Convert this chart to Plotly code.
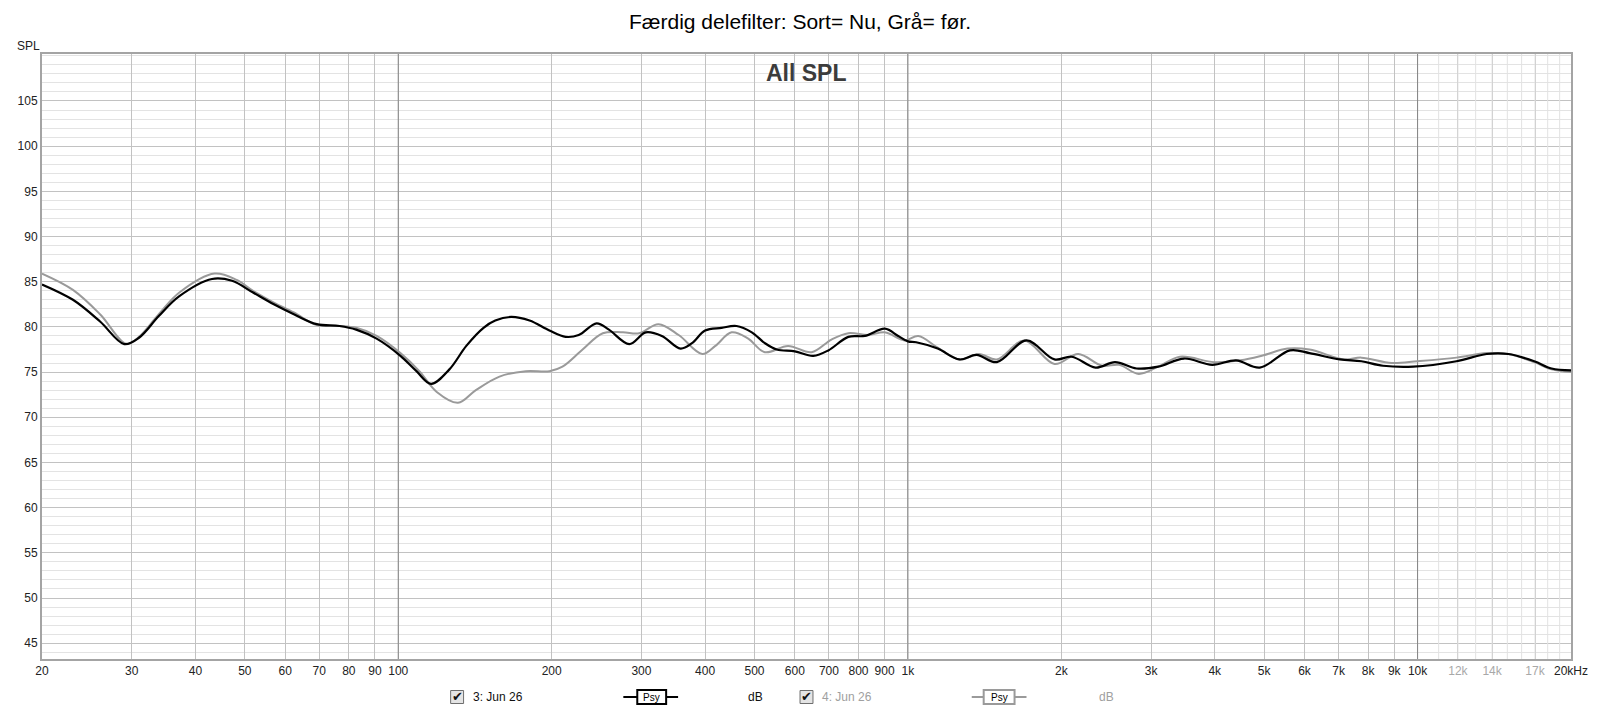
import math
import plotly.graph_objects as go

# ---- data (Hz, dB) ----
freq_now = [20, 23, 26, 29, 31, 33.9, 37.2, 43.1, 47.2, 51.9, 57, 62.4, 69.2, 76.7, 82.7, 90.7,
            101, 108.6, 116, 126, 136, 147, 155, 166.6, 181, 198, 213, 226, 245, 259, 284, 306,
            329, 358, 377, 400, 431, 461, 494, 524, 553, 600, 652, 698, 764, 823, 901, 957,
            1000, 1038, 1144, 1262, 1364, 1495, 1708, 1939, 2097, 2334, 2549, 2810, 3099, 3483,
            3955, 4404, 4902, 5621, 6137, 7037, 7757, 8554, 9806, 11920, 13670, 15070, 16940,
            18320, 20000]
spl_now = [84.7, 83.0, 80.6, 78.1, 78.8, 81.2, 83.4, 85.3, 85.1, 83.8, 82.5, 81.4, 80.3, 80.1, 79.7, 78.7,
           76.8, 75.1, 73.7, 75.3, 77.9, 79.9, 80.7, 81.1, 80.7, 79.6, 78.9, 79.1, 80.4, 79.7, 78.1, 79.4,
           79.0, 77.6, 78.2, 79.6, 79.9, 80.1, 79.4, 78.2, 77.5, 77.3, 76.8, 77.4, 78.9, 79.0, 79.8, 79.0,
           78.4, 78.3, 77.6, 76.4, 76.9, 76.1, 78.5, 76.4, 76.7, 75.5, 76.1, 75.4, 75.6, 76.5,
           75.8, 76.3, 75.5, 77.4, 77.1, 76.4, 76.2, 75.7, 75.6, 76.2, 77.0, 77.0, 76.2,
           75.4, 75.2]

freq_before = [20, 23, 26, 29.3, 31, 33.9, 37.2, 43.6, 48.2, 51.9, 57, 62.4, 69.2, 76.7, 82.7, 90.7,
               101, 110, 119, 131, 142, 158, 178, 198, 210, 230, 252, 276, 297, 324, 355, 395,
               419, 451, 486, 524, 582, 647, 708, 764, 836, 901, 985, 1048, 1144, 1262, 1378, 1495,
               1691, 1939, 2159, 2403, 2597, 2837, 3099, 3418, 3993, 4494, 4947, 5561, 6137, 7176,
               7757, 8893, 10000, 11920, 13670, 15070, 16940, 18320, 20000]
spl_before = [85.9, 84.1, 81.4, 78.1, 78.9, 81.4, 83.8, 85.9, 85.2, 84.0, 82.7, 81.6, 80.2, 80.1, 79.9, 79.0,
              77.1, 75.1, 72.8, 71.6, 73.0, 74.5, 75.1, 75.1, 75.6, 77.5, 79.3, 79.4, 79.3, 80.3, 79.1, 77.0,
              77.9, 79.4, 78.7, 77.2, 77.9, 77.2, 78.6, 79.3, 79.1, 79.4, 78.5, 79.0, 77.7, 76.4, 77.0, 76.4,
              78.5, 75.9, 77.0, 75.7, 75.8, 74.8, 75.6, 76.7, 76.1, 76.3, 76.8, 77.6, 77.5, 76.4,
              76.6, 76.0, 76.2, 76.6, 77.1, 77.0, 76.1, 75.3, 75.0]

tick_freqs = [20, 30, 40, 50, 60, 70, 80, 90, 100, 200, 300, 400, 500, 600, 700, 800, 900,
              1000, 2000, 3000, 4000, 5000, 6000, 7000, 8000, 9000, 10000, 12000, 14000, 17000, 20000]
tick_labels = ["20", "30", "40", "50", "60", "70", "80", "90", "100", "200", "300", "400", "500",
               "600", "700", "800", "900", "1k", "2k", "3k", "4k", "5k", "6k", "7k", "8k", "9k", "10k",
               "<span style='color:#a8a8a8'>12k</span>", "<span style='color:#a8a8a8'>14k</span>",
               "<span style='color:#a8a8a8'>17k</span>", "20kHz"]
spl_ticks = [45, 50, 55, 60, 65, 70, 75, 80, 85, 90, 95, 100, 105]

W, H = 1600, 711
L, R, T, B = 42, 22, 54, 52
YMIN, YMAX = 43.25, 110.2
FONT = "Liberation Sans, Arial, sans-serif"


def px(x):
    return (x - L) / (W - L - R)


def py(y):
    return (H - B - y) / (H - T - B)


def label(text, x, y, size=12, color="#111111", xanchor="center", family=FONT):
    return dict(text=text, xref="paper", yref="paper", x=x, y=y, xanchor=xanchor, yanchor="middle",
                showarrow=False, font=dict(family=family, size=size, color=color))


fig = go.Figure()
fig.add_trace(go.Scatter(x=freq_before, y=spl_before, mode="lines", name="4: Jun 26",
                         line=dict(color="#9a9a9a", width=2, shape="spline", smoothing=1)))
fig.add_trace(go.Scatter(x=freq_now, y=spl_now, mode="lines", name="3: Jun 26",
                         line=dict(color="#000000", width=2.2, shape="spline", smoothing=1)))

shapes = []
# darker decade lines and light lines above 10k
for dec in [100, 1000, 10000]:
    shapes.append(dict(type="line", xref="x", yref="y", x0=dec, x1=dec, y0=YMIN, y1=YMAX,
                       layer="between", line=dict(color="#858585", width=1)))
for k in range(11, 20):
    shapes.append(dict(type="line", xref="x", yref="y", x0=k * 1000, x1=k * 1000, y0=YMIN, y1=YMAX,
                       layer="between", line=dict(color="#e2e2e2", width=1)))

# bottom legend strip
annots = []
ly = 697


def checkbox(cx):
    shapes.append(dict(type="rect", xref="paper", yref="paper",
                       x0=px(cx - 6.5), x1=px(cx + 6.5), y0=py(ly + 6.5), y1=py(ly - 6.5),
                       fillcolor="#e4e4e4", line=dict(color="#6e6e6e", width=1)))
    annots.append(label("✔", px(cx + 0.5), py(ly - 1), size=13, family="DejaVu Sans"))


def psy(x0, x1, b0, b1, color):
    shapes.append(dict(type="line", xref="paper", yref="paper", x0=px(x0), x1=px(x1),
                       y0=py(ly), y1=py(ly), line=dict(color=color, width=2)))
    shapes.append(dict(type="rect", xref="paper", yref="paper", x0=px(b0), x1=px(b1),
                       y0=py(ly + 7), y1=py(ly - 7), fillcolor="white", line=dict(color=color, width=2)))
    annots.append(label("Psy", px((b0 + b1) / 2), py(ly), size=10, color="#000000"))


checkbox(459)
annots.append(label("3: Jun 26", px(473), py(ly), xanchor="left"))
psy(626, 681, 640, 669, "#000000")
annots.append(label("dB", px(759), py(ly)))
checkbox(810)
annots.append(label("4: Jun 26", px(824), py(ly), color="#a0a0a0", xanchor="left"))
psy(976, 1031, 988, 1019, "#9a9a9a")
annots.append(label("dB", px(1111), py(ly), color="#a0a0a0"))

annots.append(label("<b>All SPL</b>", 0.5, py(73), size=23, color="#3c3c3c"))
annots.append(label("SPL", px(28), py(46), color="#222222"))

fig.update_layout(
    width=W, height=H,
    margin=dict(l=L, r=R, t=T, b=B),
    paper_bgcolor="white", plot_bgcolor="white",
    showlegend=False,
    font=dict(family=FONT, size=12, color="#222222"),
    title=dict(text="Færdig delefilter: Sort= Nu, Grå= før.", x=0.5, xref="container", xanchor="center",
               y=1 - 22 / H, yanchor="middle", font=dict(family=FONT, size=21, color="#000000")),
    shapes=shapes,
    annotations=annots,
)
fig.update_xaxes(type="log", range=[math.log10(20), math.log10(20000)],
                 tickmode="array", tickvals=tick_freqs, ticktext=tick_labels,
                 showgrid=True, gridcolor="#c2c2c2", gridwidth=1, zeroline=False,
                 showline=True, linecolor="#a4a4a4", linewidth=2, mirror=True, ticks="",
                 tickfont=dict(family=FONT, size=12, color="#222222"))
fig.update_yaxes(range=[YMIN, YMAX], tickmode="array", tickvals=spl_ticks,
                 showgrid=True, gridcolor="#c2c2c2", gridwidth=1, zeroline=False,
                 minor=dict(tickmode="linear", tick0=45, dtick=1, showgrid=True, gridcolor="#e3e3e3", gridwidth=1),
                 showline=True, linecolor="#a4a4a4", linewidth=2, mirror=True, ticks="",
                 tickfont=dict(family=FONT, size=12, color="#222222"))

# page body margin would push the fixed-size figure off the 1600x711 window
fig.write_html("out.html", config={"displayModeBar": False},
               post_script="document.body.style.margin='0';")
